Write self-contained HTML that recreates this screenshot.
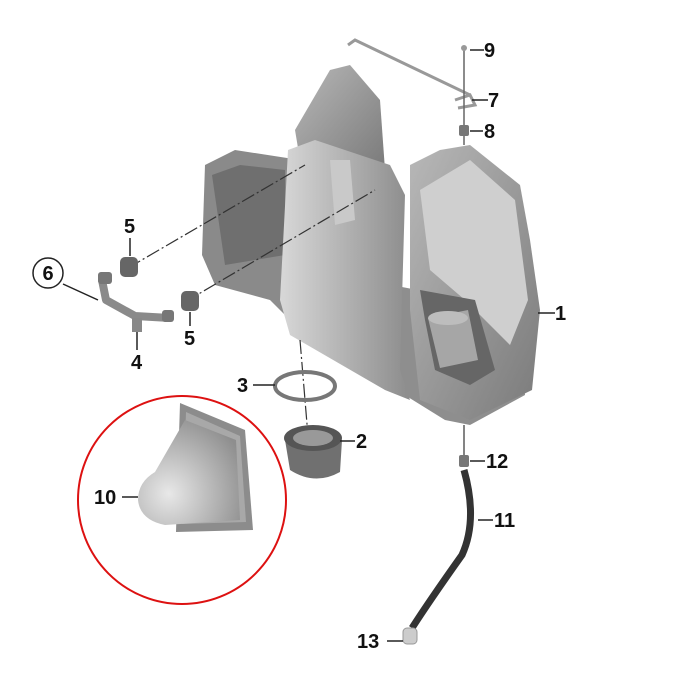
<!DOCTYPE html>
<html><head><style>body{margin:0;background:#fff}svg{display:block}text{font-family:"Liberation Sans",sans-serif;font-weight:bold;font-size:20px;fill:#111}</style></head>
<body>
<svg width="700" height="700" viewBox="0 0 700 700">
<defs>
<linearGradient id="g1" x1="0" y1="0" x2="1" y2="1"><stop offset="0" stop-color="#b8b8b8"/><stop offset="1" stop-color="#7a7a7a"/></linearGradient>
<linearGradient id="g2" x1="0" y1="0" x2="1" y2="0"><stop offset="0" stop-color="#d8d8d8"/><stop offset="1" stop-color="#8c8c8c"/></linearGradient>
<radialGradient id="g3" cx="0.3" cy="0.7" r="0.8"><stop offset="0" stop-color="#e8e8e8"/><stop offset="1" stop-color="#8e8e8e"/></radialGradient>
</defs>
<path d="M348 45 L355 40 L470 95" stroke="#999" stroke-width="3" fill="none"/>
<path d="M455 100 L470 95 L475 105 L458 108" stroke="#999" stroke-width="3" fill="none"/>
<line x1="464" y1="50" x2="464" y2="145" stroke="#666" stroke-width="1.5"/>
<circle cx="464" cy="48" r="3" fill="#999"/>
<rect x="459" y="125" width="10" height="11" rx="2" fill="#777"/>
<path d="M255 285 L300 330 L445 420 L470 425 L525 395 L520 310 L470 300 L260 260 Z" fill="#8e8e8e"/>
<path d="M205 165 L235 150 L300 160 L300 300 L270 300 L215 285 L202 255 Z" fill="#8a8a8a"/>
<path d="M212 175 L240 165 L285 170 L285 255 L225 265 Z" fill="#6f6f6f"/>
<path d="M295 130 L330 70 L350 65 L380 100 L385 170 L300 160 Z" fill="url(#g1)"/>
<path d="M288 150 L315 140 L390 165 L405 195 L400 370 L410 400 L385 390 L290 335 L280 300 Z" fill="url(#g2)"/>
<path d="M330 160 L350 160 L355 220 L335 225 Z" fill="#c9c9c9"/>
<path d="M410 165 L440 150 L470 145 L520 185 L530 240 L540 310 L532 390 L470 420 L420 400 L410 310 Z" fill="url(#g1)"/>
<path d="M420 190 L470 160 L515 200 L528 300 L510 345 L465 300 L430 270 Z" fill="#cfcfcf"/>
<path d="M420 290 L475 300 L495 370 L470 385 L435 370 L425 320 Z" fill="#666"/>
<path d="M428 318 L468 310 L478 360 L440 368 Z" fill="#a6a6a6"/>
<ellipse cx="448" cy="318" rx="20" ry="7" fill="#bdbdbd"/>
<line x1="128" y1="268" x2="305" y2="165" stroke="#333" stroke-width="1.2" stroke-dasharray="14 3 2 3"/>
<line x1="185" y1="302" x2="375" y2="190" stroke="#333" stroke-width="1.2" stroke-dasharray="14 3 2 3"/>
<line x1="300" y1="340" x2="310" y2="460" stroke="#333" stroke-width="1.2" stroke-dasharray="14 3 2 3"/>
<line x1="464" y1="425" x2="464" y2="455" stroke="#333" stroke-width="1.2"/>
<!-- bracket -->
<path d="M102 280 L106 300 L135 316 L170 318" stroke="#8a8a8a" stroke-width="8" fill="none" stroke-linejoin="round"/>
<rect x="98" y="272" width="14" height="12" rx="3" fill="#777"/>
<rect x="162" y="310" width="12" height="12" rx="3" fill="#777"/>
<rect x="132" y="318" width="10" height="14" fill="#888"/>
<rect x="120" y="257" width="18" height="20" rx="5" fill="#666"/>
<rect x="181" y="291" width="18" height="20" rx="5" fill="#666"/>
<ellipse cx="305" cy="386" rx="30" ry="14" fill="none" stroke="#777" stroke-width="4"/>
<path d="M285 440 L290 470 Q315 486 340 472 L342 440 Z" fill="#707070"/>
<ellipse cx="313" cy="438" rx="29" ry="13" fill="#555"/>
<ellipse cx="313" cy="438" rx="20" ry="8" fill="#999"/>
<rect x="459" y="455" width="10" height="12" rx="2" fill="#777"/>
<path d="M464 470 Q478 520 462 555 Q430 600 412 628" stroke="#333" stroke-width="7" fill="none"/>
<rect x="403" y="628" width="14" height="16" rx="4" fill="#ccc" stroke="#999"/>
<circle cx="182" cy="500" r="104" fill="none" stroke="#d11" stroke-width="2"/>
<!-- part 10 -->
<path d="M180 403 L245 430 L253 530 L176 532 Z" fill="#8c8c8c"/>
<path d="M186 412 L240 436 L246 522 L182 524 Z" fill="#a8a8a8"/>
<path d="M185 420 L236 440 L240 520 L165 525 Q140 520 138 500 Q138 482 155 472 Z" fill="url(#g3)"/>
<g stroke="#222" stroke-width="1.5">
<line x1="470" y1="50" x2="484" y2="50"/><line x1="472" y1="100" x2="488" y2="100"/><line x1="470" y1="131" x2="483" y2="131"/>
<line x1="538" y1="313" x2="555" y2="313"/><line x1="63" y1="284" x2="98" y2="300"/><line x1="137" y1="332" x2="137" y2="350"/>
<line x1="253" y1="385" x2="275" y2="385"/><line x1="340" y1="441" x2="355" y2="441"/><line x1="470" y1="461" x2="485" y2="461"/>
<line x1="478" y1="520" x2="493" y2="520"/><line x1="122" y1="497" x2="138" y2="497"/><line x1="387" y1="641" x2="403" y2="641"/>
<line x1="130" y1="238" x2="130" y2="256"/><line x1="190" y1="312" x2="190" y2="326"/>
</g>
<circle cx="48" cy="273" r="15" fill="#fff" stroke="#222" stroke-width="1.5"/>
<text x="48" y="280" text-anchor="middle">6</text>
<text x="484" y="57">9</text><text x="488" y="107">7</text><text x="484" y="138">8</text>
<text x="555" y="320">1</text><text x="124" y="233">5</text><text x="184" y="345">5</text>
<text x="131" y="369">4</text><text x="237" y="392">3</text><text x="356" y="448">2</text>
<text x="486" y="468">12</text><text x="494" y="527">11</text><text x="94" y="504">10</text><text x="357" y="648">13</text>
</svg>
</body></html>
